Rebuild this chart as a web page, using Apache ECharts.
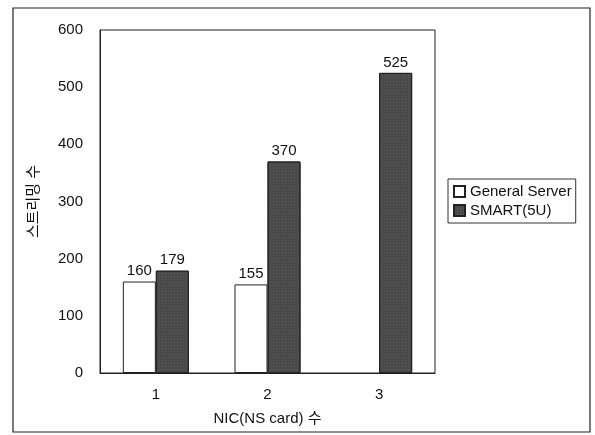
<!DOCTYPE html>
<html>
<head>
<meta charset="utf-8">
<script src="https://cdn.jsdelivr.net/npm/echarts@6/dist/echarts.min.js"></script>
<style>html,body{margin:0;padding:0;background:#fff;}#c{width:595px;height:435px;}</style>
</head>
<body>
<div id="c"></div>
<script>
var categories = ['1', '2', '3'];
var generalServer = [160, 155, null];
var smart5U = [179, 370, 525];
var yTicks = [0, 100, 200, 300, 400, 500, 600];
var seriesNames = ['General Server', 'SMART(5U)'];

var chart = echarts.init(document.getElementById('c'), null, {renderer: 'canvas'});
var font = 'Arial, "Liberation Sans", "Noto Sans CJK KR", sans-serif';
chart.setOption({
  animation: false,
  backgroundColor: '#fff',
  textStyle: {fontFamily: font},
  graphic: [
    {type: 'rect', shape: {x: 13, y: 8, width: 577, height: 424}, style: {fill: 'none', stroke: '#222', lineWidth: 1.2}, z: -1},
    {type: 'rect', shape: {x: 100, y: 30, width: 335, height: 343}, style: {fill: 'none', stroke: '#222', lineWidth: 1}, z: 0}
  ],
  grid: {left: 100, top: 30, right: 160, bottom: 62, containLabel: false},
  legend: {
    orient: 'vertical',
    left: 448, top: 179,
    itemWidth: 11, itemHeight: 11, itemGap: 4,
    icon: 'rect',
    padding: [5, 4, 5, 5],
    borderColor: '#333', borderWidth: 1,
    textStyle: {fontSize: 15, color: '#111', fontFamily: font},
    data: seriesNames
  },
  xAxis: {
    type: 'category',
    data: categories,
    name: 'NIC(NS card) 수',
    nameLocation: 'middle',
    nameGap: 38,
    nameTextStyle: {fontSize: 15, color: '#111'},
    axisLine: {lineStyle: {color: '#222', width: 1}},
    axisTick: {show: false},
    axisLabel: {fontSize: 15, color: '#111', margin: 14}
  },
  yAxis: {
    type: 'value',
    min: 0, max: 600, interval: 100,
    name: '스트리밍 수',
    nameLocation: 'middle',
    nameGap: 59,
    nameRotate: 90,
    nameTextStyle: {fontSize: 15, color: '#111'},
    axisLine: {show: true, lineStyle: {color: '#222', width: 1}},
    axisTick: {show: false},
    splitLine: {show: false},
    axisLabel: {fontSize: 15, color: '#111', margin: 17,
      formatter: function (v) { return yTicks.indexOf(v) >= 0 ? String(v) : ''; }}
  },
  series: [
    {
      name: seriesNames[0], type: 'bar', data: generalServer,
      barWidth: 33, barGap: '0%',
      itemStyle: {color: '#fff', borderColor: '#222', borderWidth: 1},
      label: {show: true, position: 'top', fontSize: 15, color: '#111', distance: 3}
    },
    {
      name: seriesNames[1], type: 'bar', data: smart5U,
      barWidth: 33, barGap: '0%',
      itemStyle: {
        color: '#4a4a4a', borderColor: '#222', borderWidth: 1,
        decal: {symbol: 'rect', symbolSize: 0.6, color: 'rgba(200,200,200,0.45)', dashArrayX: [1, 2], dashArrayY: [1, 2], rotation: 0}
      },
      label: {show: true, position: 'top', fontSize: 15, color: '#111', distance: 3}
    }
  ]
});
</script>
</body>
</html>
